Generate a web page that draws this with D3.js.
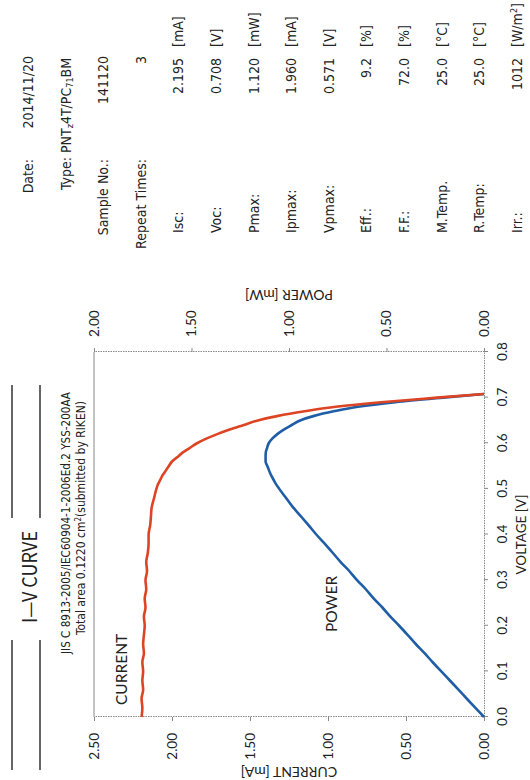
<!DOCTYPE html>
<html>
<head>
<meta charset="utf-8">
<script src="https://cdn.jsdelivr.net/npm/d3@7"></script>
<style>
body { margin: 0; background: #fff; }
svg { display: block; }
text { fill: #222; }
</style>
</head>
<body>
<svg id="chart" width="530" height="780"></svg>
<script>
const voltage = [0, 0.02, 0.04, 0.06, 0.08, 0.10, 0.12, 0.14, 0.16, 0.18, 0.20, 0.22, 0.24, 0.26, 0.28, 0.30,
	0.32, 0.34, 0.36, 0.38, 0.40, 0.42, 0.44, 0.46, 0.48, 0.50, 0.51, 0.52, 0.53, 0.54, 0.55, 0.56, 0.57,
	0.58, 0.59, 0.60, 0.61, 0.62, 0.63, 0.64, 0.65, 0.66, 0.67, 0.68, 0.69, 0.70, 0.708];
const current = [2.195, 2.19, 2.195, 2.185, 2.19, 2.185, 2.19, 2.18, 2.185, 2.18, 2.175, 2.18, 2.17, 2.175, 2.165, 2.17,
	2.16, 2.165, 2.155, 2.15, 2.15, 2.14, 2.135, 2.13, 2.115, 2.10, 2.09, 2.075, 2.06, 2.04, 2.02, 2.00, 1.965,
	1.93, 1.885, 1.84, 1.78, 1.71, 1.63, 1.54, 1.45, 1.32, 1.15, 0.95, 0.66, 0.30, 0];
const power = [0, 0.044, 0.088, 0.131, 0.175, 0.219, 0.263, 0.305, 0.350, 0.392, 0.435, 0.480, 0.521, 0.566, 0.606, 0.651,
	0.691, 0.736, 0.776, 0.817, 0.860, 0.899, 0.939, 0.980, 1.015, 1.050, 1.066, 1.079, 1.092, 1.102, 1.111, 1.120, 1.120,
	1.119, 1.112, 1.104, 1.086, 1.060, 1.027, 0.986, 0.943, 0.871, 0.771, 0.646, 0.455, 0.210, 0];

const voltageTicks = [0, 0.1, 0.2, 0.3, 0.4, 0.5, 0.6, 0.7, 0.8];
const currentTicks = [0, 0.5, 1.0, 1.5, 2.0, 2.5];
const powerTicks = [0, 0.5, 1.0, 1.5, 2.0];

// sheet header block
const headLabels = ['Date:', 'Type:', 'Sample No.:', 'Repeat Times:'];
const headValues = ['2014/11/20', '', '141120', '3'];
const resultLabels = ['Isc:', 'Voc:', 'Pmax:', 'Ipmax:', 'Vpmax:', 'Eff.:', 'F.F.:', 'M.Temp.', 'R.Temp:', 'Irr.:'];
const resultValues = ['2.195', '0.708', '1.120', '1.960', '0.571', '9.2', '72.0', '25.0', '25.0', '1012'];
const resultUnits = ['[mA]', '[V]', '[mW]', '[mA]', '[V]', '[%]', '[%]', '[°C]', '[°C]', '[W/m'];

const opts = {
	pageW: 780,
	pageH: 530,
	left: 63,
	right: 428,
	top: 94,
	bottom: 484,
	red: '#dd4424',
	blue: '#1f5ea6',
	tickFont: 'Lato, "Open Sans", sans-serif',
	narrow: '"Liberation Sans Narrow", "DejaVu Sans Condensed", sans-serif'
};

// the sheet is scanned sideways, so everything is laid out upright and turned
const svg = d3.select('#chart');
const page = svg.append('g')
	.attr('transform', `translate(0,${opts.pageW}) rotate(-90)`);

const x = d3.scaleLinear().domain([0, 0.8]).range([opts.left, opts.right]);
const yI = d3.scaleLinear().domain([0, 2.5]).range([opts.bottom, opts.top]);
const yP = d3.scaleLinear().domain([0, 2]).range([opts.bottom, opts.top]);

const styleAxis = (g, dotted) => {
	g.select('.domain').attr('stroke', '#888').attr('stroke-dasharray', dotted ? '1.5,1' : null);
	g.selectAll('.tick line').attr('stroke', '#888');
	g.selectAll('.tick text')
		.attr('font-family', opts.tickFont)
		.attr('font-size', 13.5)
		.attr('fill', '#333');
};

page.append('g')
	.attr('transform', `translate(${opts.left},0)`)
	.call(d3.axisLeft(yI).tickValues(currentTicks).tickFormat(d3.format('.2f')).tickSize(4).tickSizeOuter(0).tickPadding(12))
	.call(g => styleAxis(g, true));

page.append('g')
	.attr('transform', `translate(${opts.right},0)`)
	.call(d3.axisRight(yP).tickValues(powerTicks).tickFormat(d3.format('.2f')).tickSize(4).tickSizeOuter(0).tickPadding(11))
	.call(g => styleAxis(g, true));

page.append('g')
	.attr('transform', `translate(0,${opts.bottom})`)
	.call(d3.axisBottom(x).tickValues(voltageTicks).tickFormat(d3.format('.1f')).tickSize(4).tickSizeOuter(0).tickPadding(9))
	.call(g => styleAxis(g, true));

// top edge of the frame is a plain grey rule
page.append('line')
	.attr('x1', opts.left).attr('x2', opts.right)
	.attr('y1', opts.top).attr('y2', opts.top)
	.attr('stroke', '#888');

const pts = voltage.map((v, i) => ({ v: v, i: current[i], p: power[i] }));

page.append('path')
	.datum(pts)
	.attr('fill', 'none')
	.attr('stroke', opts.blue)
	.attr('stroke-width', 2.6)
	.attr('stroke-linejoin', 'round')
	.attr('d', d3.line().x(d => x(d.v)).y(d => yP(d.p)).curve(d3.curveMonotoneX));

page.append('path')
	.datum(pts)
	.attr('fill', 'none')
	.attr('stroke', opts.red)
	.attr('stroke-width', 2.6)
	.attr('stroke-linejoin', 'round')
	.attr('d', d3.line().x(d => x(d.v)).y(d => yI(d.i)).curve(d3.curveMonotoneX));

// axis titles
page.append('text')
	.attr('transform', `translate(13,${(opts.top + opts.bottom) / 2}) rotate(-90)`)
	.attr('text-anchor', 'middle')
	.attr('font-family', opts.tickFont)
	.attr('font-size', 14)
	.text('CURRENT [mA]');

page.append('text')
	.attr('transform', `translate(490,${(opts.top + opts.bottom) / 2}) rotate(-90)`)
	.attr('text-anchor', 'middle')
	.attr('font-family', opts.tickFont)
	.attr('font-size', 14)
	.text('POWER [mW]');

page.append('text')
	.attr('x', (opts.left + opts.right) / 2)
	.attr('y', 526)
	.attr('text-anchor', 'middle')
	.attr('font-family', opts.tickFont)
	.attr('font-size', 13.5)
	.text('VOLTAGE [V]');

// curve labels
page.append('text')
	.attr('x', 75).attr('y', 127)
	.attr('font-family', opts.tickFont)
	.attr('font-size', 15.5)
	.text('CURRENT');

page.append('text')
	.attr('x', 148).attr('y', 337)
	.attr('font-family', opts.tickFont)
	.attr('font-size', 15.5)
	.text('POWER');

// title block
page.append('text')
	.attr('x', 203).attr('y', 37)
	.attr('text-anchor', 'middle')
	.attr('font-family', '"Noto Sans CJK JP", sans-serif')
	.attr('font-size', 20)
	.attr('textLength', 92).attr('lengthAdjust', 'spacingAndGlyphs')
	.text('I\u2014V  CURVE');

[[10, 140], [262, 395]].forEach(seg => {
	[12, 40].forEach(yy => {
		page.append('line')
			.attr('x1', seg[0]).attr('x2', seg[1])
			.attr('y1', yy).attr('y2', yy)
			.attr('stroke', '#333').attr('stroke-width', 1.5);
	});
});

page.append('text')
	.attr('x', 257).attr('y', 70)
	.attr('text-anchor', 'middle')
	.attr('font-family', opts.narrow)
	.attr('font-size', 12)
	.attr('textLength', 262).attr('lengthAdjust', 'spacingAndGlyphs')
	.text('JIS C 8913-2005/IEC60904-1-2006Ed.2  YSS-200AA');

const area = page.append('text')
	.attr('x', 262).attr('y', 85)
	.attr('text-anchor', 'middle')
	.attr('font-family', opts.narrow)
	.attr('font-size', 12);
area.append('tspan').text('Total area  0.1220  cm');
area.append('tspan').attr('dy', -4).attr('font-size', 8).text('2');
area.append('tspan').attr('dy', 4).text('(submitted by RIKEN)');

// info table to the right of the plot
const rowY = i => 33 + 37.6 * i;
const info = page.append('g')
	.attr('font-family', opts.narrow)
	.attr('font-size', 14);

headLabels.forEach((lab, i) => {
	if (i === 1) {
		const t = info.append('text').attr('x', 590).attr('y', rowY(i));
		t.append('tspan').text('Type: PNT');
		t.append('tspan').attr('font-size', 9).attr('dy', 2).text('z');
		t.append('tspan').attr('dy', -2).text('4T/PC');
		t.append('tspan').attr('font-size', 9).attr('dy', 2).text('71');
		t.append('tspan').attr('dy', -2).text('BM');
		return;
	}
	info.append('text')
		.attr('x', 621).attr('y', rowY(i))
		.attr('text-anchor', 'end')
		.text(lab);
	info.append('text')
		.attr('x', 724).attr('y', rowY(i))
		.attr('text-anchor', 'end')
		.text(headValues[i]);
});

resultLabels.forEach((lab, j) => {
	const i = j + headLabels.length;
	info.append('text')
		.attr('x', 547).attr('y', rowY(i))
		.text(lab);
	info.append('text')
		.attr('x', 722).attr('y', rowY(i))
		.attr('text-anchor', 'end')
		.text(resultValues[j]);
	const u = info.append('text')
		.attr('x', 733).attr('y', rowY(i))
		.text(resultUnits[j]);
	if (resultUnits[j] === '[W/m') {
		u.append('tspan').attr('dy', -5).attr('font-size', 9).text('2');
		u.append('tspan').attr('dy', 5).text(']');
	}
});
</script>
</body>
</html>
